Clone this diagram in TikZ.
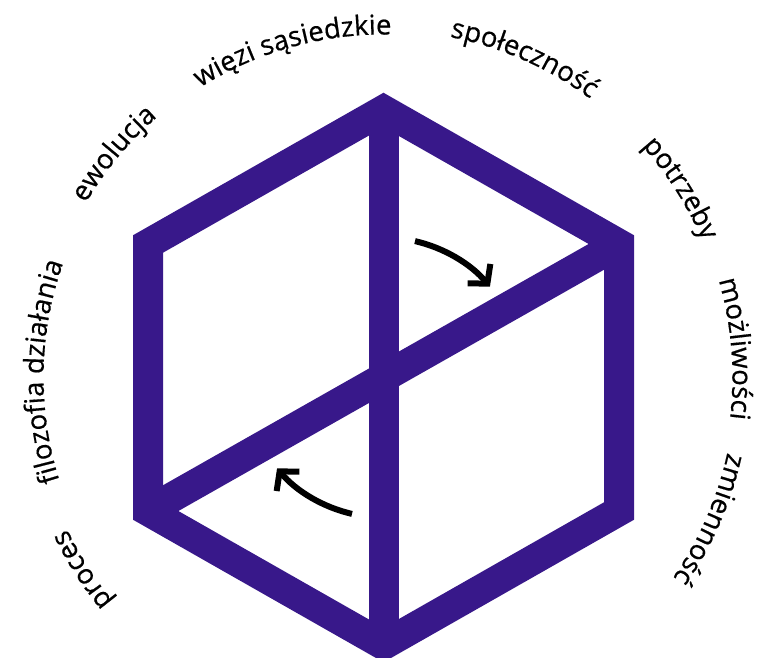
\documentclass[tikz,border=0pt]{standalone}
\usepackage{fontspec}
\setmainfont{Open Sans}
\newfontfamily\lblfamily{Open Sans}[FakeBold=0.5]
\usetikzlibrary{arrows.meta,decorations.text}
\definecolor{hexpurple}{RGB}{56,24,138}
\newcommand{\lblfont}{\lblfamily\fontsize{27.5}{30}\selectfont}
\newcommand{\arclabel}[3]{%
  \path[decorate, decoration={text along path, text align=center, text={|\lblfont|#3}}]
    ([shift={({#1+40}:#2)}]C) arc[start angle={#1+40}, end angle={#1-40}, radius=#2];}
\begin{document}
\begin{tikzpicture}[x=1pt,y=1pt,
  hexline/.style={draw=hexpurple, line width=30pt, line join=miter},
  turnarrow/.style={draw=black, line width=6pt, -{Straight Barb[length=13pt,width=30pt]}}]
\useasboundingbox (0,0) rectangle (758,-658);
\coordinate (C) at (383.5,-377.5);
\coordinate (T) at (383.5,-110);
\coordinate (UR) at (619,-244);
\coordinate (LR) at (619,-511);
\coordinate (B) at (383.5,-645);
\coordinate (LL) at (148,-511);
\coordinate (UL) at (148,-244);
\draw[hexline] (T) -- (B);
\draw[hexline] (UR) -- (LL);
\draw[hexline] (T) -- (UR) -- (LR) -- (B) -- (LL) -- (UL) -- cycle;
\draw[turnarrow] ([shift={(77:140)}]C) arc[start angle=77, end angle=40.5, radius=140];
\draw[turnarrow] ([shift={(257:140)}]C) arc[start angle=257, end angle=220.5, radius=140];
\arclabel{105.5}{343}{więzi sąsiedzkie}
\arclabel{66.2}{347}{społeczność}
\arclabel{32.5}{347}{potrzeby}
\arclabel{4.7}{349}{możliwości}
\arclabel{-23.5}{352}{zmienność}
\arclabel{212.6}{351}{proces}
\arclabel{179}{340}{filozofia działania}
\arclabel{140.3}{345}{ewolucja}
\end{tikzpicture}
\end{document}
